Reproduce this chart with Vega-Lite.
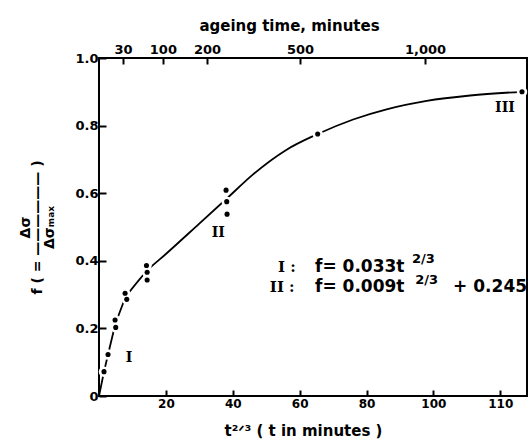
{
  "$schema": "https://vega.github.io/schema/vega-lite/v6.json",
  "width": 428,
  "height": 338,
  "autosize": {"type": "none"},
  "padding": {"left": 99, "top": 58, "right": 3, "bottom": 51},
  "background": "white",
  "config": {
    "font": "DejaVu Sans",
    "view": {"stroke": "black", "strokeWidth": 2},
    "axis": {
      "domain": false,
      "grid": false,
      "tickColor": "black",
      "tickWidth": 2,
      "labelColor": "black",
      "titleColor": "black",
      "labelFont": "DejaVu Sans",
      "labelFontWeight": "bold",
      "titleFont": "DejaVu Sans",
      "titleFontWeight": "bold"
    }
  },
  "datasets": {
    "curve": [
      {"seg": "I", "x": 0, "f": 0},
      {"seg": "I", "x": 1.5, "f": 0.072},
      {"seg": "I", "x": 2.7, "f": 0.123},
      {"seg": "I", "x": 4.9, "f": 0.214},
      {"seg": "I", "x": 8.0, "f": 0.295},
      {"seg": "II", "x": 8.3, "f": 0.298},
      {"seg": "II", "x": 14.5, "f": 0.372},
      {"seg": "II", "x": 20, "f": 0.42},
      {"seg": "II", "x": 30, "f": 0.51},
      {"seg": "II", "x": 38.3, "f": 0.585},
      {"seg": "II", "x": 46, "f": 0.655},
      {"seg": "II", "x": 56, "f": 0.728},
      {"seg": "II", "x": 65.4, "f": 0.775},
      {"seg": "II", "x": 76, "f": 0.818},
      {"seg": "II", "x": 86, "f": 0.848},
      {"seg": "II", "x": 98, "f": 0.873},
      {"seg": "II", "x": 111, "f": 0.889},
      {"seg": "II", "x": 126.5, "f": 0.9}
    ],
    "points": [
      {"x": 1.5, "f": 0.072},
      {"x": 2.7, "f": 0.123},
      {"x": 4.8, "f": 0.225},
      {"x": 5.0, "f": 0.203},
      {"x": 7.8, "f": 0.304},
      {"x": 8.3, "f": 0.286},
      {"x": 14.2, "f": 0.386},
      {"x": 14.4, "f": 0.366},
      {"x": 14.4, "f": 0.343},
      {"x": 38.0, "f": 0.609},
      {"x": 38.2, "f": 0.575},
      {"x": 38.3, "f": 0.538},
      {"x": 65.4, "f": 0.775},
      {"x": 126.5, "f": 0.9}
    ],
    "numerals": [
      {"x": 9, "f": 0.111, "t": "I"},
      {"x": 35.7, "f": 0.481, "t": "II"},
      {"x": 121.4, "f": 0.851, "t": "III"}
    ],
    "equations": [
      {"x": 53.5, "f": 0.367, "t": "I :", "kind": "roman"},
      {"x": 64.6, "f": 0.367, "t": "f= 0.033t", "kind": "main"},
      {"x": 93.6, "f": 0.393, "t": "2/3", "kind": "sup"},
      {"x": 51.1, "f": 0.308, "t": "II :", "kind": "roman"},
      {"x": 64.6, "f": 0.308, "t": "f= 0.009t", "kind": "main"},
      {"x": 94.6, "f": 0.33, "t": "2/3", "kind": "sup"},
      {"x": 105.9, "f": 0.308, "t": "+ 0.245", "kind": "main"}
    ]
  },
  "layer": [
    {
      "data": {"name": "curve"},
      "transform": [{"filter": "datum.seg == 'I'"}],
      "mark": {"type": "line", "color": "black", "strokeWidth": 1.8, "interpolate": "linear"},
      "encoding": {
        "x": {
          "field": "x", "type": "quantitative",
          "scale": {"domain": [0, 128], "nice": false, "zero": false},
          "axis": {
            "orient": "bottom",
            "values": [20, 40, 60, 80, 100, 120],
            "labelExpr": "datum.value == 120 ? '110' : datum.label",
            "tickSize": -6,
            "labelPadding": 8,
            "labelFontSize": 12,
            "title": "t²ᐟ³ ( t in minutes )",
            "titleFontSize": 15,
            "titlePadding": 14,
            "titleX": 204
          }
        },
        "y": {
          "field": "f", "type": "quantitative",
          "scale": {"domain": [0, 1], "nice": false},
          "axis": {
            "values": [0, 0.1, 0.2, 0.3, 0.4, 0.5, 0.6, 0.7, 0.8, 0.9, 1.0],
            "labelExpr": "round(datum.value * 10) % 2 == 0 ? (datum.value == 0 ? '0' : format(datum.value, '.1f')) : ''",
            "tickSize": -7,
            "labelPadding": 8,
            "labelFontSize": 13,
            "title": ["Δσ", "f ( = ——————  )\u00a0\u00a0\u00a0\u00a0\u00a0", "\u00a0\u00a0\u00a0\u00a0\u00a0\u00a0\u00a0Δσₘₐₓ"],
            "titleFontSize": 14,
            "titleLineHeight": 12,
            "titlePadding": 18
          }
        }
      }
    },
    {
      "data": {"name": "curve"},
      "transform": [{"filter": "datum.seg == 'II'"}],
      "mark": {"type": "line", "color": "black", "strokeWidth": 1.8, "interpolate": "monotone"},
      "encoding": {
        "x": {"field": "x", "type": "quantitative", "axis": null},
        "y": {"field": "f", "type": "quantitative"}
      }
    },
    {
      "data": {"name": "points"},
      "mark": {"type": "point", "filled": true, "color": "white", "opacity": 1, "size": 110},
      "encoding": {
        "x": {"field": "x", "type": "quantitative", "axis": null},
        "y": {"field": "f", "type": "quantitative"}
      }
    },
    {
      "data": {"name": "points"},
      "mark": {"type": "point", "filled": true, "color": "black", "opacity": 1, "size": 26},
      "encoding": {
        "x": {"field": "x", "type": "quantitative", "axis": null},
        "y": {"field": "f", "type": "quantitative"}
      }
    },
    {
      "data": {"name": "numerals"},
      "mark": {"type": "text", "font": "DejaVu Serif", "fontWeight": "bold", "fontSize": 14, "align": "center", "baseline": "middle", "color": "black"},
      "encoding": {
        "x": {"field": "x", "type": "quantitative", "axis": null},
        "y": {"field": "f", "type": "quantitative"},
        "text": {"field": "t"}
      }
    },
    {
      "data": {"name": "equations"},
      "transform": [{"filter": "datum.kind == 'roman'"}],
      "mark": {"type": "text", "font": "DejaVu Serif", "fontWeight": "bold", "fontSize": 15, "align": "left", "baseline": "alphabetic", "color": "black"},
      "encoding": {
        "x": {"field": "x", "type": "quantitative", "axis": null},
        "y": {"field": "f", "type": "quantitative"},
        "text": {"field": "t"}
      }
    },
    {
      "data": {"name": "equations"},
      "transform": [{"filter": "datum.kind == 'main'"}],
      "mark": {"type": "text", "font": "DejaVu Sans", "fontWeight": "bold", "fontSize": 17, "align": "left", "baseline": "alphabetic", "color": "black"},
      "encoding": {
        "x": {"field": "x", "type": "quantitative", "axis": null},
        "y": {"field": "f", "type": "quantitative"},
        "text": {"field": "t"}
      }
    },
    {
      "data": {"name": "equations"},
      "transform": [{"filter": "datum.kind == 'sup'"}],
      "mark": {"type": "text", "font": "DejaVu Sans", "fontWeight": "bold", "fontSize": 13, "align": "left", "baseline": "alphabetic", "color": "black"},
      "encoding": {
        "x": {"field": "x", "type": "quantitative", "axis": null},
        "y": {"field": "f", "type": "quantitative"},
        "text": {"field": "t"}
      }
    },
    {
      "data": {"name": "points"},
      "mark": {"type": "point", "opacity": 0},
      "encoding": {
        "x": {
          "field": "x", "type": "quantitative",
          "axis": {
            "orient": "top",
            "values": [7.2, 19.1, 32.3, 60.1, 97.5],
            "labelExpr": "datum.value < 10 ? '30' : datum.value < 20 ? '100' : datum.value < 40 ? '200' : datum.value < 70 ? '500' : '1,000'",
            "tickSize": -6,
            "labelPadding": 8,
            "labelFontSize": 13,
            "title": "ageing time, minutes",
            "titleFontSize": 15,
            "titlePadding": 10,
            "titleX": 190
          }
        },
        "y": {"field": "f", "type": "quantitative"}
      }
    }
  ],
  "resolve": {"axis": {"x": "independent"}}
}
